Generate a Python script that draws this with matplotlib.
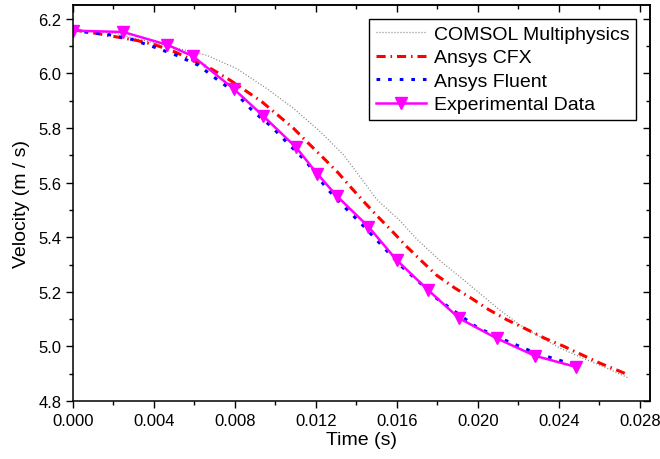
import matplotlib
matplotlib.use("Agg")
import matplotlib.pyplot as plt
from matplotlib.ticker import MultipleLocator, FormatStrFormatter

plt.rcParams['font.family'] = ['Liberation Sans', 'DejaVu Sans']

# COMSOL Multiphysics
comsol_t = [0, 0.002, 0.004, 0.0066, 0.00808, 0.00957, 0.01088, 0.0122, 0.01335, 0.01409,
            0.0150, 0.01615, 0.01697, 0.01812, 0.01911, 0.0201, 0.02109, 0.02207, 0.02306,
            0.02405, 0.0252, 0.02636, 0.02742]
comsol_v = [6.160, 6.148, 6.112, 6.067, 6.018, 5.945, 5.873, 5.788, 5.703, 5.630,
            5.539, 5.461, 5.394, 5.315, 5.255, 5.194, 5.133, 5.079, 5.036,
            4.994, 4.957, 4.921, 4.885]

# Ansys CFX
cfx_t = [0, 0.0010, 0.00315, 0.00405, 0.00504, 0.00685, 0.00775, 0.00932, 0.01014, 0.01088,
         0.01162, 0.01236, 0.0131, 0.01376, 0.01442, 0.01508, 0.01574, 0.01648, 0.01722,
         0.01796, 0.01886, 0.01969, 0.02051, 0.0214, 0.0224, 0.0233, 0.0242, 0.02512,
         0.02602, 0.02701, 0.02736]
cfx_v = [6.160, 6.149, 6.121, 6.105, 6.079, 6.016, 5.976, 5.897, 5.846, 5.800,
         5.745, 5.691, 5.636, 5.580, 5.526, 5.474, 5.424, 5.366, 5.313,
         5.261, 5.214, 5.176, 5.136, 5.099, 5.063, 5.030, 5.002, 4.970,
         4.939, 4.909, 4.898]

# Ansys Fluent
fluent_t = [0, 0.0006, 0.0018, 0.0029, 0.0040, 0.0051, 0.0062, 0.0071, 0.0080, 0.0089,
            0.0098, 0.0106, 0.0115, 0.0125, 0.01335, 0.01417, 0.0150, 0.01623, 0.01714,
            0.01796, 0.0199, 0.0205, 0.02158, 0.02265, 0.0238, 0.0246]
fluent_v = [6.160, 6.152, 6.142, 6.125, 6.097, 6.067, 6.030, 5.979, 5.931, 5.861,
            5.806, 5.745, 5.679, 5.582, 5.515, 5.455, 5.390, 5.293, 5.233,
            5.176, 5.073, 5.051, 5.015, 4.982, 4.954, 4.937]

# Experimental Data
exp_t = [0, 0.00248, 0.00466, 0.00591, 0.00795, 0.00937, 0.01101, 0.01206, 0.01302,
         0.01459, 0.01598, 0.01752, 0.01908, 0.02092, 0.02281, 0.02484]
exp_v = [6.157, 6.152, 6.105, 6.064, 5.943, 5.846, 5.730, 5.633, 5.552,
         5.439, 5.317, 5.208, 5.103, 5.030, 4.966, 4.925]

fig = plt.figure(figsize=(6.6, 4.6), dpi=100)
ax = fig.add_axes([0.1106, 0.126, 0.8742, 0.861])

ax.plot(comsol_t, comsol_v, color='#555555', linestyle=(0, (0.8, 1.6)), linewidth=0.9,
        alpha=0.75, label='COMSOL Multiphysics')
ax.plot(cfx_t, cfx_v, color='red', linestyle=(0, (3, 1.6, 0.5, 1.6)), linewidth=2.2,
        label='Ansys CFX')
ax.plot(fluent_t, fluent_v, color='blue', linestyle=(0, (1.2, 2.6)), linewidth=2.2,
        label='Ansys Fluent')
ax.plot(exp_t, exp_v, color='#ff00ff', linestyle='-', linewidth=1.8, marker='v',
        markersize=8, label='Experimental Data')

ax.set_xlim(0, 0.0285)
ax.set_ylim(4.8, 6.251)
ax.xaxis.set_major_locator(MultipleLocator(0.004))
ax.xaxis.set_minor_locator(MultipleLocator(0.002))
ax.yaxis.set_major_locator(MultipleLocator(0.2))
ax.yaxis.set_minor_locator(MultipleLocator(0.1))
ax.xaxis.set_major_formatter(FormatStrFormatter('%.3f'))
ax.yaxis.set_major_formatter(FormatStrFormatter('%.1f'))

for s in ax.spines.values():
    s.set_linewidth(1.1)

ax.tick_params(which='major', direction='out', length=5, width=1, labelsize=12)
ax.tick_params(which='minor', direction='out', length=3, width=1)

secx = ax.secondary_xaxis('top')
secx.xaxis.set_major_locator(MultipleLocator(0.004))
secx.xaxis.set_minor_locator(MultipleLocator(0.002))
secx.tick_params(which='major', direction='in', length=5, width=1, labeltop=False)
secx.tick_params(which='minor', direction='in', length=3, width=1)
secx.spines['top'].set_linewidth(1.1)

secy = ax.secondary_yaxis('right')
secy.yaxis.set_major_locator(MultipleLocator(0.2))
secy.yaxis.set_minor_locator(MultipleLocator(0.1))
secy.tick_params(which='major', direction='in', length=5, width=1, labelright=False)
secy.tick_params(which='minor', direction='in', length=3, width=1)
secy.spines['right'].set_linewidth(1.1)

ax.set_xlabel('Time (s)', fontsize=14, labelpad=2)
ax.set_ylabel('Velocity (m / s)', fontsize=14, labelpad=6)

leg = ax.legend(loc='upper right', fontsize=14, frameon=True, fancybox=False,
                edgecolor='black', framealpha=1, handlelength=2.6,
                labelspacing=0.3, borderaxespad=0.7, handletextpad=0.4,
                borderpad=0.35)
leg.get_frame().set_linewidth(1.0)

fig.savefig('out.png', dpi=100)
